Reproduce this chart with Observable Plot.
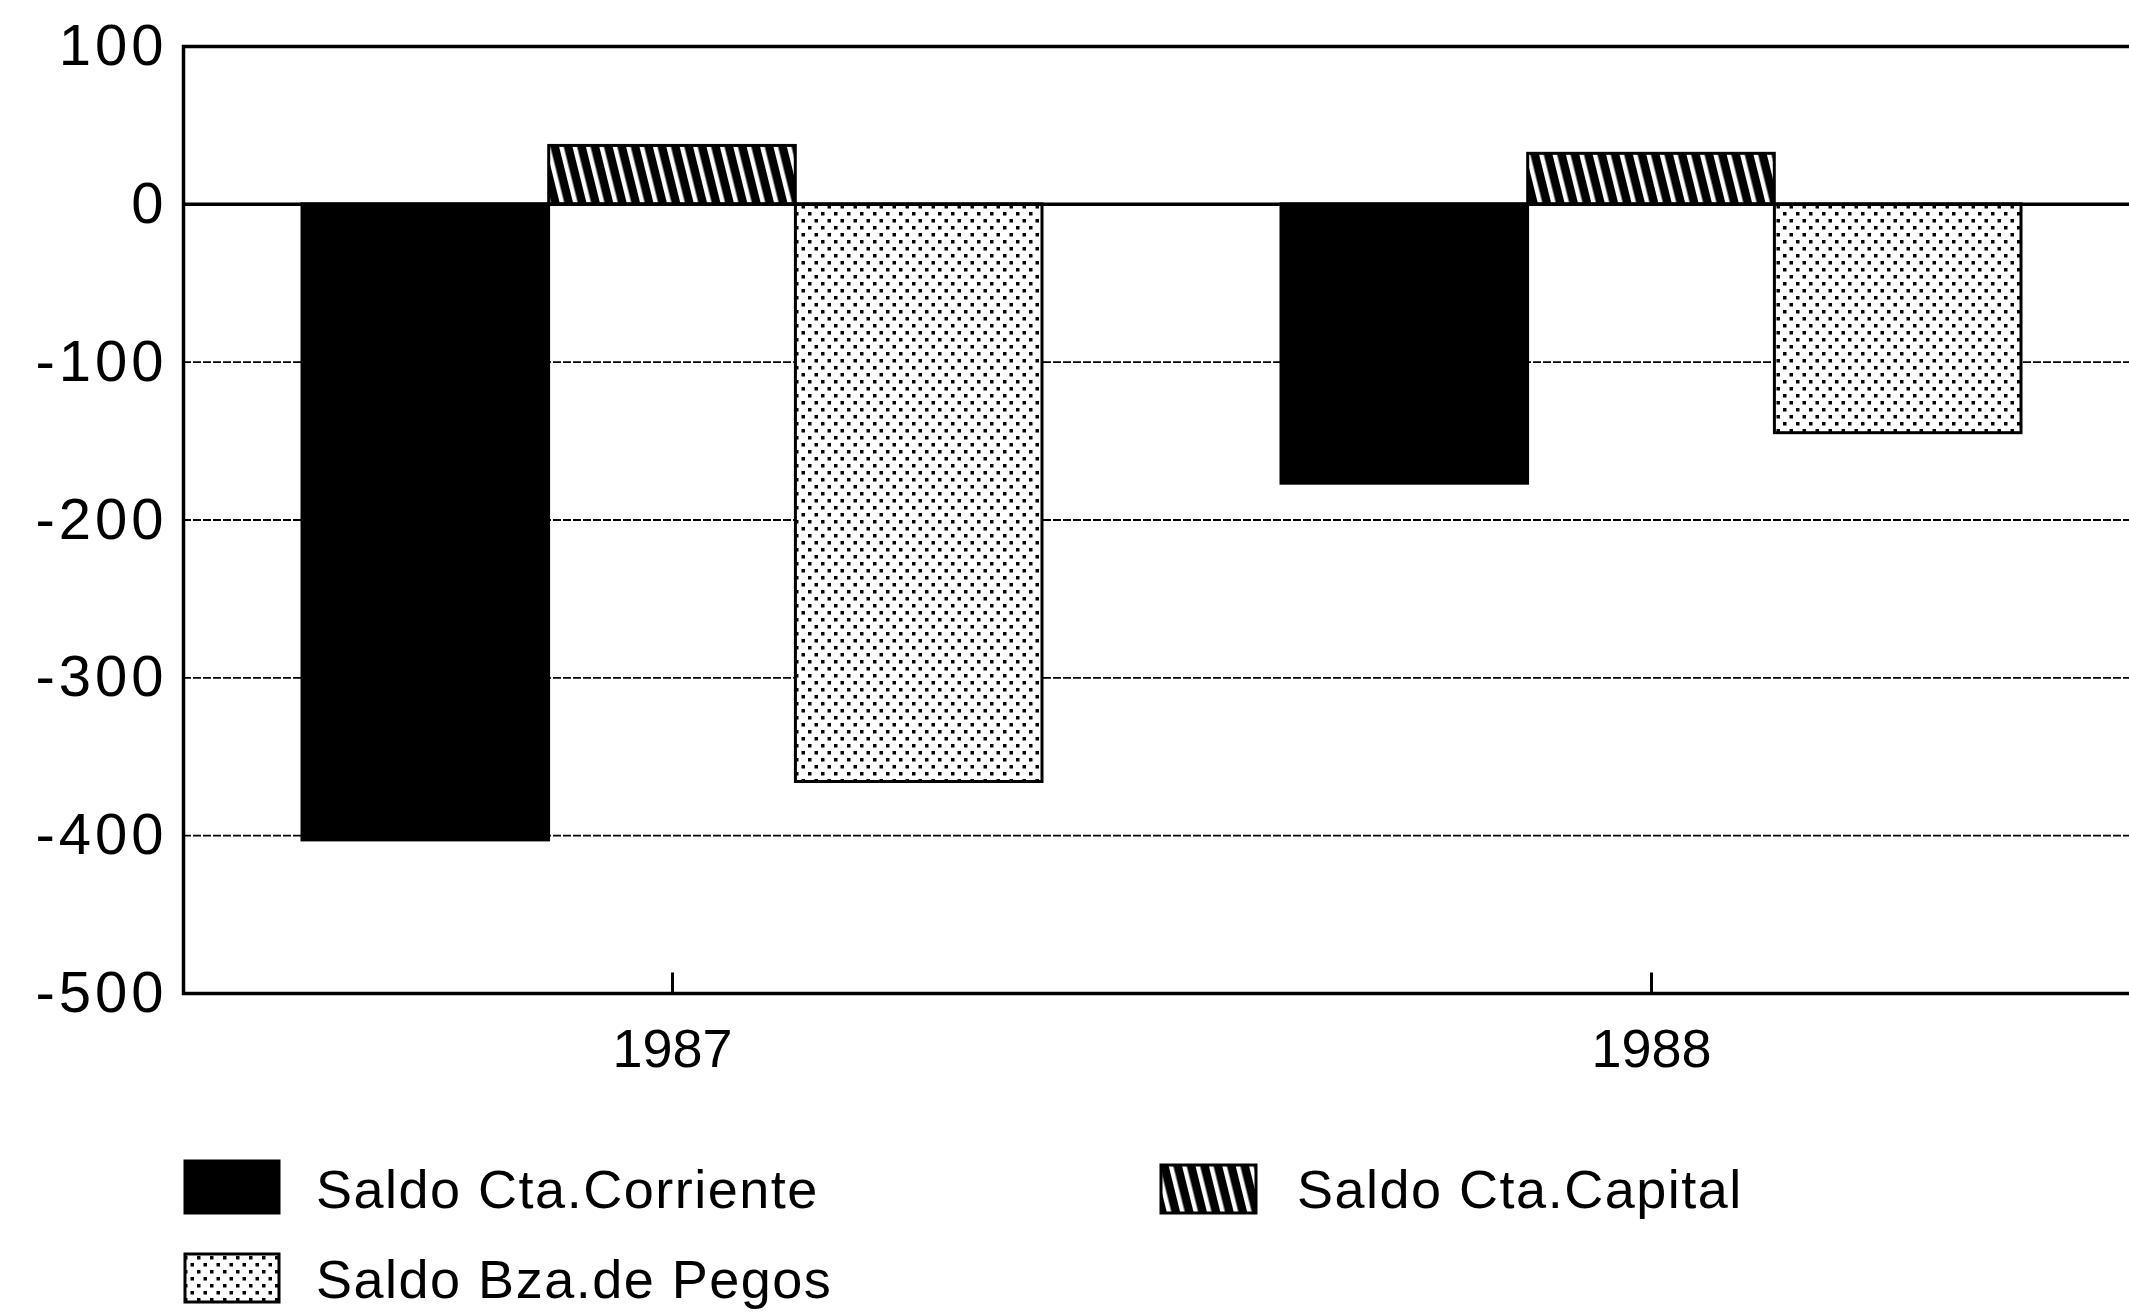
<!DOCTYPE html>
<html>
<head>
<meta charset="utf-8">
<script src="https://cdn.jsdelivr.net/npm/d3@7"></script>
<script src="https://cdn.jsdelivr.net/npm/@observablehq/plot@0.6"></script>
<style>
  html, body { margin: 0; padding: 0; background: white; overflow: hidden; }
  #wrap { position: relative; width: 2129px; }
  #legend { display: block; }
</style>
</head>
<body>
<svg width="0" height="0" style="position:absolute">
  <defs>
    <pattern id="hatch" patternUnits="userSpaceOnUse" width="13" height="13" patternTransform="rotate(-14)">
      <rect width="13" height="13" fill="black"></rect>
      <rect x="0" y="0" width="4.5" height="13" fill="white"></rect>
    </pattern>
    <pattern id="dots" patternUnits="userSpaceOnUse" width="13" height="14">
      <rect width="13" height="14" fill="white"></rect>
      <rect x="2" y="2" width="3.5" height="3.5" fill="black"></rect>
      <rect x="8.5" y="9" width="3.5" height="3.5" fill="black"></rect>
    </pattern>
  </defs>
</svg>
<div id="wrap"></div>
<script>
// ---- data ----
const years = ["1987", "1988"];
const seriesNames = ["Saldo Cta.Corriente", "Saldo Cta.Capital", "Saldo Bza.de Pegos"];
const corriente = [-403, -177];
const capital = [37, 32];
const pagos = [-366, -145];
const yTicks = [100, 0, -100, -200, -300, -400, -500];
const gridTicks = [-100, -200, -300, -400];

// ---- layout / style ----
const W = 2129, H = 1100;
const mL = 183, mR = -12, mT = 46, mB = 107;
const padIn = 0.244, padOut = 0.122;
const fills = ["black", "url(#hatch)", "url(#dots)"];
const seriesValues = [corriente, capital, pagos];

const plotW = W - mL - mR;
const step = plotW / (years.length - padIn + 2 * padOut);
const bandW = step * (1 - padIn);
const bw = bandW / seriesNames.length;

const bars = seriesValues.map((vals, k) => {
  const rows = years.map((y, i) => ({year: y, value: vals[i]}));
  return Plot.barY(rows, {
    x: "year", y: "value",
    fill: fills[k], stroke: "black", strokeWidth: 3,
    insetLeft: k * bw, insetRight: (seriesNames.length - 1 - k) * bw
  });
});

const chart = Plot.plot({
  width: W, height: H,
  marginLeft: mL, marginRight: mR, marginTop: mT, marginBottom: mB,
  style: {fontSize: "54px", fontFamily: "'Liberation Sans', Arial, sans-serif", color: "black", background: "white", overflow: "hidden"},
  x: {domain: years, paddingInner: padIn, paddingOuter: padOut, align: 0.5, tickSize: 0, tickPadding: 35, label: null},
  y: {domain: [-500, 100], ticks: yTicks, tickFormat: d => String(d), tickSize: 0, tickPadding: 16, label: null},
  marks: [
    Plot.ruleY(gridTicks, {stroke: "black", strokeWidth: 1.8, strokeDasharray: "8,2"}),
    ...bars,
    Plot.ruleY([0], {stroke: "black", strokeWidth: 3.5}),
    Plot.ruleX(years, {y1: -500, y2: -487, stroke: "black", strokeWidth: 3}),
    Plot.frame({stroke: "black", strokeWidth: 3.5})
  ]
});
// slightly larger, wider-spaced y tick labels, as in the original print
d3.select(chart).selectAll('g[aria-label="y-axis tick label"] text, g[aria-label="y-axis"] text')
  .attr("letter-spacing", "4px").attr("font-size", "58px");
document.getElementById("wrap").appendChild(chart);

// ---- legend (below the SVG) ----
const legendItems = [
  {name: seriesNames[0], fill: fills[0], sx: 185, sy: 61, sw: 94, sh: 52, tx: 316, ty: 108},
  {name: seriesNames[1], fill: fills[1], sx: 1161, sy: 65, sw: 95, sh: 48, tx: 1297, ty: 108},
  {name: seriesNames[2], fill: fills[2], sx: 185, sy: 154, sw: 94, sh: 48, tx: 316, ty: 198}
];
const ns = "http://www.w3.org/2000/svg";
const leg = document.createElementNS(ns, "svg");
leg.setAttribute("id", "legend");
leg.setAttribute("width", W);
leg.setAttribute("height", 212);
leg.style.fontFamily = "'Liberation Sans', Arial, sans-serif";
for (const it of legendItems) {
  const r = document.createElementNS(ns, "rect");
  r.setAttribute("x", it.sx); r.setAttribute("y", it.sy);
  r.setAttribute("width", it.sw); r.setAttribute("height", it.sh);
  r.setAttribute("fill", it.fill); r.setAttribute("stroke", "black"); r.setAttribute("stroke-width", 3);
  leg.appendChild(r);
  const t = document.createElementNS(ns, "text");
  t.setAttribute("x", it.tx); t.setAttribute("y", it.ty);
  t.setAttribute("font-size", "54px");
  t.setAttribute("letter-spacing", "1.5px");
  t.setAttribute("fill", "black");
  t.textContent = it.name;
  leg.appendChild(t);
}
document.getElementById("wrap").appendChild(leg);
</script>
</body>
</html>
